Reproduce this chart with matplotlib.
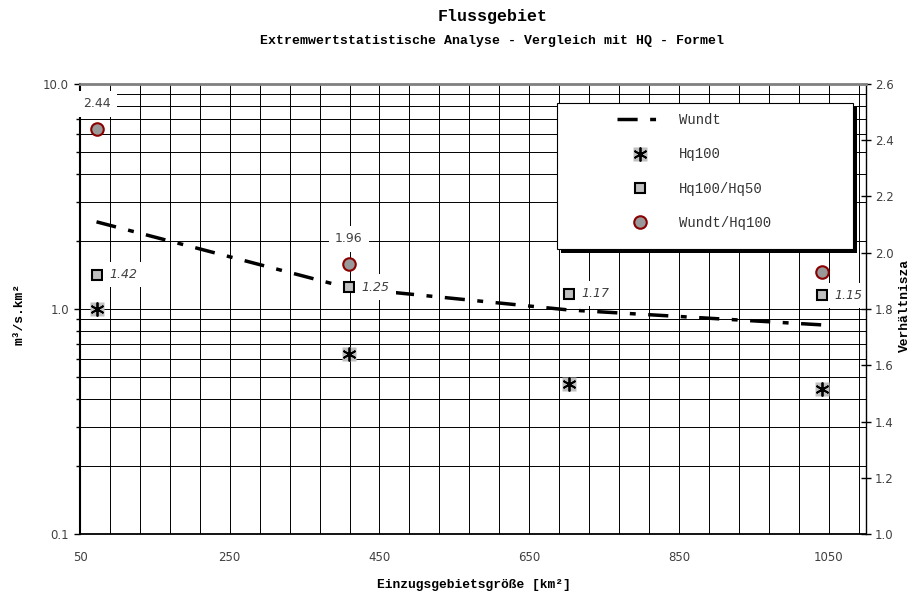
#!/usr/bin/env python3

import matplotlib

matplotlib.use("Agg")
import matplotlib.pyplot as plt
from matplotlib.patches import Rectangle
from matplotlib.ticker import (
    FixedLocator,
    FormatStrFormatter,
    LogLocator,
    MultipleLocator,
    NullFormatter,
)

plt.rcParams["font.family"] = ["DejaVu Sans"]

# Einzugsgebietsgröße [km²]
area = [72, 409, 703, 1041]
# linke Achse (m³/s.km²)
wundt = [2.44, 1.24, 0.99, 0.85]
hq100 = [1.0, 0.63, 0.464, 0.441]
hq100_hq50 = [1.42, 1.25, 1.17, 1.15]
# rechte Achse (Verhältnis)
wundt_hq100 = [2.44, 1.96, 2.13, 1.93]
# Beschriftungen der Wundt/Hq100-Punkte (die übrigen liegen unter der Legende)
wundt_hq100_labels = ["2.44", "1.96", "", ""]

x_ticks = [50, 250, 450, 650, 850, 1050]
legend_labels = ["Wundt", "Hq100", "Hq100/Hq50", "Wundt/Hq100"]

title = "Flussgebiet"
subtitle = "Extremwertstatistische Analyse - Vergleich mit HQ - Formel"
x_label = "Einzugsgebietsgröße [km²]"
y_label = "m³/s.km²"
y2_label = "Verhältnisza"

mono = "Liberation Mono"
text_grey = "#404040"


def plot_and_save_graph():
    fig = plt.figure(figsize=(9.2, 5.94), dpi=100)
    ax = fig.add_axes([0.087, 0.101, 0.8543, 0.7576])
    ax2 = ax.twinx()

    # linke Achse, logarithmisch
    ax.set_yscale("log")
    ax.set_xlim(50, 1100)
    ax.set_ylim(0.1, 10)
    ax.xaxis.set_major_locator(FixedLocator(x_ticks))
    ax.xaxis.set_minor_locator(MultipleLocator(40, offset=10))
    ax.yaxis.set_major_locator(LogLocator(base=10))
    ax.yaxis.set_minor_locator(LogLocator(base=10, subs=range(2, 10)))
    ax.yaxis.set_major_formatter(FormatStrFormatter("%.1f"))
    ax.yaxis.set_minor_formatter(NullFormatter())
    ax.grid(which="both", axis="both", color="black", lw=0.7)
    ax.set_axisbelow(True)

    ax.tick_params(axis="x", which="both", length=0, pad=12,
                   labelsize=8.5, labelcolor=text_grey)
    ax.tick_params(axis="y", which="major", direction="out", length=4,
                   width=1, pad=4, labelsize=8.5, labelcolor=text_grey)
    ax.tick_params(axis="y", which="minor", direction="out", length=3, width=1)

    # rechte Achse, linear
    ax2.set_ylim(1.0, 2.6)
    ax2.yaxis.set_major_locator(MultipleLocator(0.2))
    ax2.yaxis.set_major_formatter(FormatStrFormatter("%.1f"))
    ax2.tick_params(axis="y", direction="inout", length=7, width=1, pad=3,
                    labelsize=8.5, labelcolor=text_grey)

    for s in ["top", "right"]:
        ax.spines[s].set_visible(False)
    ax.spines["left"].set_linewidth(1.5)
    ax.spines["bottom"].set_linewidth(1.3)
    ax2.spines["left"].set_visible(False)
    ax2.spines["bottom"].set_visible(False)
    ax2.spines["top"].set_color("#808080")
    ax2.spines["top"].set_linewidth(2)
    ax2.spines["right"].set_linewidth(1)

    # Daten
    line, = ax.plot(area, wundt, color="black", lw=2.5,
                    dashes=(5.8, 3.6, 1.7, 3.6), zorder=3)
    bg, = ax.plot(area, hq100, ls="none", marker="s", ms=9.5,
                  mfc="#c0c0c0", mec="none", zorder=4)
    star, = ax.plot(area, hq100, ls="none", marker=(6, 2, 0), ms=10,
                    mec="black", mew=1.3, zorder=5)
    sq, = ax.plot(area, hq100_hq50, ls="none", marker="s", ms=7.5,
                  mfc="#c0c0c0", mec="black", mew=1.5, zorder=5)
    ci, = ax2.plot(area, wundt_hq100, ls="none", marker="o", ms=9,
                   mfc="#999999", mec="#8b0000", mew=1.5, zorder=5)

    for x, v in zip(area, hq100_hq50):
        ax.annotate(f"{v:.2f}", (x, v), xytext=(9, 0),
                    textcoords="offset points", ha="left", va="center",
                    fontsize=9, style="italic", color=text_grey, zorder=6,
                    bbox=dict(boxstyle="square,pad=0.5", fc="white", ec="none"))
    for x, v, t in zip(area, wundt_hq100, wundt_hq100_labels):
        if not t:
            continue
        ax2.annotate(t, (x, v), xytext=(0, 18),
                     textcoords="offset points", ha="center", va="center",
                     fontsize=9, color=text_grey, zorder=6,
                     bbox=dict(boxstyle="square,pad=0.5", fc="white", ec="none"))

    # Legende mit Schatten
    shadow = Rectangle((0.612, 0.624), 0.376, 0.325, transform=ax2.transAxes,
                       fc="black", ec="none", zorder=9)
    frame = Rectangle((0.607, 0.633), 0.376, 0.325, transform=ax2.transAxes,
                      fc="white", ec="black", lw=0.8, zorder=10)
    ax2.add_patch(shadow)
    ax2.add_patch(frame)
    leg = ax2.legend([line, (bg, star), sq, ci], legend_labels,
                     loc="upper left", bbox_to_anchor=(0.683, 0.935),
                     frameon=False, borderaxespad=0, borderpad=0,
                     handlelength=3.3, handletextpad=1.2, labelspacing=1.45,
                     numpoints=1, prop={"family": mono, "size": 10},
                     labelcolor="#333333")
    leg.set_zorder(11)

    # Texte
    fig.text(0.535, 1 - 16 / 594, title, ha="center", va="center",
             fontfamily=mono, fontweight="bold", fontsize=12)
    fig.text(0.535, 1 - 41 / 594, subtitle, ha="center", va="center",
             fontfamily=mono, fontweight="bold", fontsize=9.5)
    fig.text(474 / 920, 1 - 585 / 594, x_label, ha="center", va="center",
             fontfamily=mono, fontweight="bold", fontsize=9.4)
    fig.text(20 / 920, 1 - 314 / 594, y_label, ha="center", va="center",
             rotation=90, fontfamily=mono, fontweight="bold", fontsize=9.4)
    fig.text(905 / 920, 1 - 305 / 594, y2_label, ha="center", va="center",
             rotation=90, fontfamily=mono, fontweight="bold", fontsize=9.4)

    fig.savefig("out.png", dpi=100)


def main():
    plot_and_save_graph()


if __name__ == "__main__":
    main()
